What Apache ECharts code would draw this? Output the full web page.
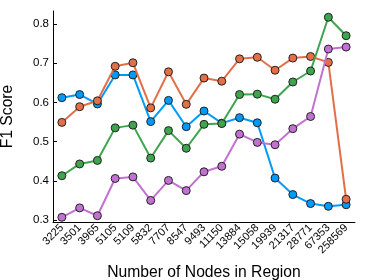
<!DOCTYPE html>
<html>
<head>
<meta charset="utf-8">
<script src="https://cdn.jsdelivr.net/npm/echarts@6/dist/echarts.min.js"></script>
<style>html,body{margin:0;padding:0;background:#fff}#c{width:374px;height:280px}</style>
</head>
<body>
<div id="c"></div>
<script>
var categories = ['3225','3501','3965','5105','5109','5832','7707','8547','9493','11150','13884','15058','19939','21317','28771','67353','258569'];
var blueValues   = [0.612,0.620,0.596,0.670,0.670,0.551,0.605,0.538,0.578,0.547,0.561,0.548,0.407,0.365,0.342,0.335,0.339];
var orangeValues = [0.549,0.589,0.604,0.692,0.701,0.586,0.678,0.595,0.662,0.654,0.711,0.715,0.682,0.713,0.717,0.702,0.353];
var greenValues  = [0.413,0.443,0.452,0.535,0.542,0.458,0.528,0.483,0.544,0.546,0.620,0.621,0.608,0.652,0.680,0.817,0.770];
var purpleValues = [0.307,0.331,0.311,0.406,0.410,0.350,0.401,0.375,0.423,0.437,0.519,0.498,0.492,0.533,0.564,0.736,0.741];
var yTicks = [0.3,0.4,0.5,0.6,0.7,0.8];

var colors = ['#009AFA','#E36F47','#3EA44E','#C271D2'];
var seriesData = [blueValues, orangeValues, greenValues, purpleValues];
var font = 'Liberation Sans, Arial, sans-serif';

var chart = echarts.init(document.getElementById('c'), null, {renderer:'canvas'});
chart.setOption({
  animation: false,
  grid: {left: 53, right: 19, top: 11, bottom: 58, containLabel: false, outerBoundsMode: 'none'},
  xAxis: {
    type: 'category',
    data: categories,
    boundaryGap: true,
    name: 'Number of Nodes in Region',
    nameLocation: 'middle',
    nameGap: 43,
    nameMoveOverlap: false,
    nameTextStyle: {fontFamily: font, fontSize: 15.7, color: '#000'},
    axisLine: {lineStyle: {color: '#000', width: 1}},
    axisTick: {inside: true, alignWithLabel: true, length: 4, lineStyle: {color: '#000'}},
    axisLabel: {rotate: 45, interval: 0, fontFamily: font, fontSize: 11, color: '#000', margin: 4, padding: [0, 0, 12, 0]},
    splitLine: {show: false}
  },
  yAxis: {
    type: 'value',
    min: 0.295,
    max: 0.833,
    name: 'F1 Score',
    nameLocation: 'middle',
    nameGap: 37,
    nameMoveOverlap: false,
    nameTextStyle: {fontFamily: font, fontSize: 15.7, color: '#000'},
    axisLine: {show: true, lineStyle: {color: '#000', width: 1}},
    axisTick: {show: true, inside: true, length: 4, customValues: yTicks, lineStyle: {color: '#000'}},
    axisLabel: {customValues: yTicks, fontFamily: font, fontSize: 11.5, color: '#000', margin: 4,
      formatter: function(v){ return v.toFixed(1); }},
    splitLine: {show: false}
  },
  series: seriesData.map(function(d, i){
    return {
      type: 'line',
      data: d,
      symbol: 'circle',
      symbolSize: 8,
      lineStyle: {color: colors[i], width: 2},
      itemStyle: {color: colors[i], borderColor: '#222', borderWidth: 1},
      z: 2 + i
    };
  })
});
</script>
</body>
</html>
